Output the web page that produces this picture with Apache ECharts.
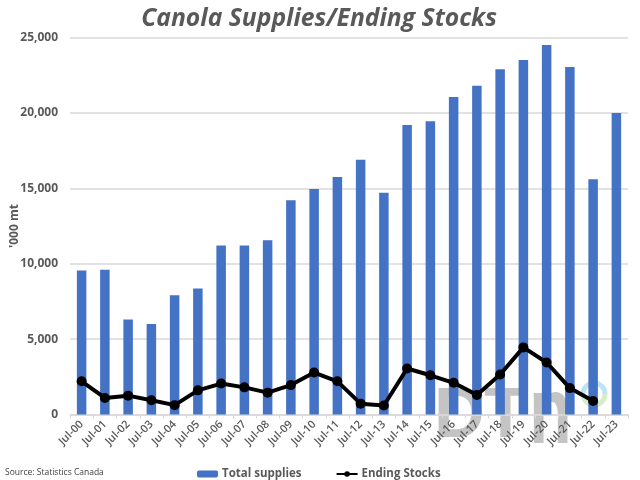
<!DOCTYPE html>
<html>
<head>
<meta charset="utf-8">
<style>
  html, body { margin: 0; padding: 0; background: #fff; }
  #chart { width: 640px; height: 480px; }
</style>
<script src="https://cdn.jsdelivr.net/npm/echarts@6/dist/echarts.min.js"></script>
</head>
<body>
<div id="chart"></div>
<script>
var categories = ['Jul-00', 'Jul-01', 'Jul-02', 'Jul-03', 'Jul-04', 'Jul-05', 'Jul-06', 'Jul-07',
  'Jul-08', 'Jul-09', 'Jul-10', 'Jul-11', 'Jul-12', 'Jul-13', 'Jul-14', 'Jul-15', 'Jul-16',
  'Jul-17', 'Jul-18', 'Jul-19', 'Jul-20', 'Jul-21', 'Jul-22', 'Jul-23'];
var totalSupplies = [9550, 9600, 6300, 6000, 7900, 8350, 11200, 11200, 11550, 14200, 14950, 15750,
  16900, 14700, 19200, 19450, 21050, 21800, 22900, 23500, 24500, 23050, 15600, 20000];
var endingStocks = [2200, 1100, 1250, 950, 620, 1600, 2050, 1800, 1450, 1950, 2780, 2200,
  720, 600, 3050, 2600, 2100, 1300, 2650, 4450, 3450, 1750, 900, null];

var font = '"Open Sans", "Noto Sans", sans-serif';
var grey = '#595959';
var rule = '#d9d9d9';
var mark = '#c4c4c4';

var chart = echarts.init(document.getElementById('chart'), null, { renderer: 'canvas' });

chart.setOption({
  animation: false,
  backgroundColor: '#fff',
  title: {
    text: 'Canola Supplies/Ending Stocks',
    left: 314,
    top: 1,
    textAlign: 'center',
    textStyle: { fontFamily: font, fontSize: 24.7, fontStyle: 'italic', fontWeight: 700, color: grey }
  },
  grid: { left: 70, right: 12, top: 37.5, bottom: 65.5, outerBoundsMode: 'none' },
  legend: {
    top: 463,
    left: 192,
    itemGap: 34,
    itemWidth: 21,
    itemHeight: 7,
    textStyle: { fontFamily: font, fontSize: 11.5, fontWeight: 700, color: grey, padding: [0, 0, 0, -1] },
    data: ['Total supplies', 'Ending Stocks']
  },
  xAxis: {
    type: 'category',
    data: categories,
    axisLine: { lineStyle: { color: rule, width: 1.5 } },
    axisTick: { show: true, alignWithLabel: false, length: 4, lineStyle: { color: rule } },
    axisLabel: { interval: 0, rotate: 45, margin: 8, fontFamily: font, fontSize: 11, fontWeight: 600, color: grey }
  },
  yAxis: {
    type: 'value',
    min: 0,
    max: 25000,
    interval: 5000,
    name: "'000 mt",
    nameLocation: 'middle',
    nameGap: 49,
    nameMoveOverlap: false,
    nameTextStyle: { fontFamily: font, fontSize: 12, fontWeight: 700, color: grey },
    axisLine: { show: false },
    axisTick: { show: false },
    axisLabel: {
      margin: 12,
      fontFamily: font,
      fontSize: 12,
      fontWeight: 700,
      color: grey,
      formatter: function (v) { return v.toLocaleString('en-US'); }
    },
    splitLine: { lineStyle: { color: rule, width: 1.5 } }
  },
  series: [
    {
      name: 'Total supplies',
      type: 'bar',
      z: 3,
      barWidth: 9.5,
      itemStyle: { color: '#4472c4' },
      data: totalSupplies
    },
    {
      name: 'Ending Stocks',
      type: 'line',
      z: 4,
      symbol: 'circle',
      symbolSize: 10,
      lineStyle: { color: '#000', width: 4 },
      itemStyle: { color: '#000' },
      data: endingStocks
    }
  ],
  graphic: [
    // DTN 水印，放在柱子后面
    {
      type: 'group',
      z: 0,
      children: [
        { type: 'text', x: 434, y: 383, style: { text: 'D', fontFamily: 'Liberation Sans', fontSize: 70, fontWeight: 700, fill: mark } },
        { type: 'text', x: 484, y: 383, style: { text: 'T', fontFamily: 'Liberation Sans', fontSize: 70, fontWeight: 700, fill: mark } },
        { type: 'text', x: 529, y: 370, scaleX: 1, scaleY: 1.35, style: { text: 'n', fontFamily: 'Liberation Sans', fontSize: 70, fontWeight: 700, fill: mark } },
        { type: 'arc', shape: { cx: 594, cy: 394, r: 11, startAngle: Math.PI, endAngle: 2 * Math.PI }, style: { fill: 'none', stroke: '#bfe3f5', lineWidth: 5 } },
        { type: 'arc', shape: { cx: 594, cy: 394, r: 11, startAngle: 0, endAngle: Math.PI }, style: { fill: 'none', stroke: '#d5edc8', lineWidth: 5 } }
      ]
    },
    {
      type: 'text',
      left: 5,
      top: 468,
      style: { text: 'Source: Statistics Canada', fontFamily: font, fontSize: 8.5, fill: '#404040' }
    }
  ]
});
</script>
</body>
</html>
